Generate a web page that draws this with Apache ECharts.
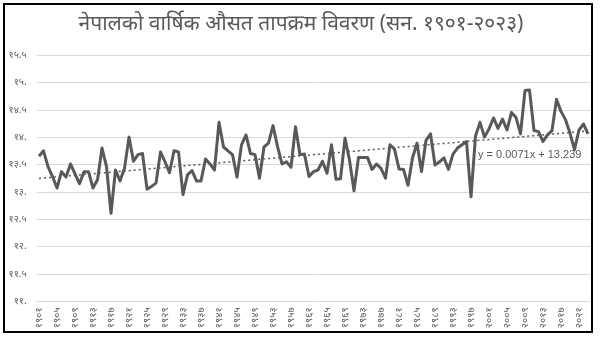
<!DOCTYPE html>
<html>
<head>
<meta charset="utf-8">
<script src="https://cdn.jsdelivr.net/npm/echarts@6/dist/echarts.min.js"></script>
<style>html,body{margin:0;padding:0;background:#fff;}#c{width:602px;height:344px;}</style>
</head>
<body>
<div id="c"></div>
<script>
const titleText = 'नेपालको वार्षिक औसत तापक्रम विवरण (सन. १९०१-२०२३)';
const years = [];
for (let y = 1901; y <= 2023; y++) years.push(y);
const temps = [
13.65,13.75,13.46,13.28,13.07,13.37,13.27,13.51,13.33,13.15,
13.37,13.37,13.07,13.22,13.80,13.46,12.61,13.40,13.20,13.43,
14.00,13.56,13.68,13.70,13.05,13.10,13.16,13.73,13.55,13.35,
13.75,13.73,12.95,13.31,13.39,13.20,13.20,13.60,13.51,13.40,
14.27,13.82,13.75,13.68,13.27,13.86,14.04,13.70,13.68,13.25,
13.82,13.89,14.21,13.83,13.51,13.55,13.45,14.19,13.68,13.69,
13.28,13.37,13.40,13.56,13.34,13.86,13.23,13.24,13.98,13.58,
13.02,13.63,13.63,13.63,13.41,13.51,13.43,13.25,13.86,13.78,
13.42,13.41,13.12,13.62,13.89,13.37,13.94,14.06,13.49,13.55,
13.62,13.41,13.69,13.80,13.86,13.92,12.91,14.02,14.27,14.00,
14.15,14.35,14.16,14.33,14.13,14.45,14.36,14.06,14.85,14.86,
14.12,14.10,13.92,14.04,14.12,14.69,14.47,14.32,14.07,13.77,
14.13,14.24,14.06
];
const trendSlope = 0.0071;
const trendIntercept = 13.239;
const trendLabel = 'y = 0.0071x + 13.239';

const dev = '०१२३४५६७८९';
function toDev(s){ return String(s).replace(/[0-9]/g, d => dev[+d]); }
function yFmt(v){
  const r = Math.round(v*10)/10;
  let s = Number.isInteger(r) ? r + '.' : r.toFixed(1);
  return toDev(s);
}

const chart = echarts.init(document.getElementById('c'), null, {renderer:'canvas'});
const grey = '#595959';
chart.setOption({
  animation:false,
  backgroundColor:'#fff',
  title:{
    text:titleText, left:'center', top:9,
    textStyle:{fontFamily:'"Noto Sans", "Noto Sans Devanagari", sans-serif', fontSize:21, fontWeight:'normal', color:grey}
  },
  grid:{left:36.75, right:11.75, top:55, bottom:42.6, containLabel:false},
  xAxis:{
    type:'category', data:years, boundaryGap:true,
    axisLine:{show:true, lineStyle:{color:'#d9d9d9', width:1}},
    axisTick:{show:false},
    axisLabel:{interval:3, rotate:90, fontSize:10, color:grey, margin:6,
      fontFamily:'"Noto Sans", sans-serif', formatter:v => toDev(v)}
  },
  yAxis:{
    type:'value', min:11, max:15.5, interval:0.5,
    axisLine:{show:false}, axisTick:{show:false},
    splitLine:{lineStyle:{color:'#d9d9d9', width:1}},
    axisLabel:{fontSize:10, color:grey, margin:10, formatter:yFmt,
      fontFamily:'"Noto Sans", sans-serif'}
  },
  series:[{
    type:'line', data:temps, symbol:'none', smooth:false,
    lineStyle:{color:grey, width:3, join:'round'},
    markLine:{
      silent:true, symbol:'none', label:{show:false},
      lineStyle:{color:grey, type:[2,3], width:1.5},
      data:[[
        {coord:[0, trendIntercept + trendSlope*1]},
        {coord:[years.length-1, trendIntercept + trendSlope*years.length]}
      ]]
    }
  }],
  graphic:[
    {type:'rect', shape:{x:4, y:4, width:588, height:328}, style:{fill:'none', stroke:'#000', lineWidth:2}, z:100},
    {type:'text', left:478, top:149, style:{text:trendLabel, fontSize:11, fill:grey, fontFamily:'"Liberation Sans", Arial, sans-serif'}, z:100}
  ]
});
</script>
</body>
</html>
